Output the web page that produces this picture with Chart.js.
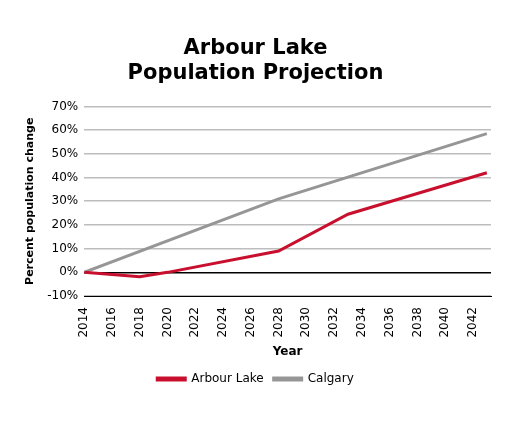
<!DOCTYPE html>
<html>
<head>
<meta charset="utf-8">
<script src="https://cdn.jsdelivr.net/npm/chart.js@4"></script>
<style>
  html, body { margin: 0; padding: 0; background: #fff; }
  #wrap { width: 509px; height: 425px; }
</style>
</head>
<body>
<div id="wrap"><canvas id="chart"></canvas></div>
<script>
// Data
const arbourYears = [2014, 2018, 2020, 2028, 2033, 2043];
const arbourValues = [0, -1.8, 0, 9, 24.5, 42];
const calgaryYears = [2014, 2028, 2043];
const calgaryValues = [0, 31, 58.5];

const toPoints = (xs, ys) => xs.map((x, i) => ({ x: x, y: ys[i] }));

new Chart(document.getElementById('chart'), {
  type: 'line',
  data: {
    datasets: [
      {
        label: 'Arbour Lake',
        data: toPoints(arbourYears, arbourValues),
        borderColor: '#c8102e',
        backgroundColor: '#c8102e',
        borderWidth: 3,
        pointRadius: 0,
        tension: 0
      },
      {
        label: 'Calgary',
        data: toPoints(calgaryYears, calgaryValues),
        borderColor: '#969696',
        backgroundColor: '#969696',
        borderWidth: 3,
        pointRadius: 0,
        tension: 0
      }
    ]
  },
  options: {
    responsive: true,
    maintainAspectRatio: false,
    animation: false,
    layout: { padding: { top: 36, right: 18, left: 20, bottom: 30 } },
    plugins: {
      title: {
        display: true,
        text: ['Arbour Lake', 'Population Projection'],
        color: '#000',
        font: { family: 'DejaVu Sans', size: 21, weight: 'bold' },
        padding: { bottom: 20 }
      },
      legend: {
        position: 'bottom',
        labels: {
          color: '#000',
          font: { family: 'DejaVu Sans', size: 12 },
          boxWidth: 28,
          boxHeight: 2,
          padding: 10
        }
      }
    },
    scales: {
      x: {
        type: 'linear',
        min: 2014,
        max: 2043.3,
        grid: { display: false },
        border: { color: '#000' },
        ticks: {
          stepSize: 2,
          maxRotation: 90,
          minRotation: 90,
          color: '#000',
          font: { family: 'DejaVu Sans', size: 12 },
          callback: v => (Number.isInteger(v) && v % 2 === 0) ? String(v) : ''
        },
        title: {
          display: true,
          text: 'Year',
          color: '#000',
          font: { family: 'DejaVu Sans', size: 12, weight: 'bold' }
        }
      },
      y: {
        min: -10,
        max: 70,
        grid: {
          color: ctx => ctx.tick.value === 0 ? '#000' : '#bdbdbd',
          lineWidth: 1.5,
          drawTicks: false
        },
        border: { display: false },
        ticks: {
          stepSize: 10,
          padding: 6,
          color: '#000',
          font: { family: 'DejaVu Sans', size: 12 },
          callback: v => v + '%'
        },
        title: {
          display: true,
          text: 'Percent population change',
          color: '#000',
          font: { family: 'DejaVu Sans', size: 11, weight: 'bold' }
        }
      }
    }
  }
});
</script>
</body>
</html>
